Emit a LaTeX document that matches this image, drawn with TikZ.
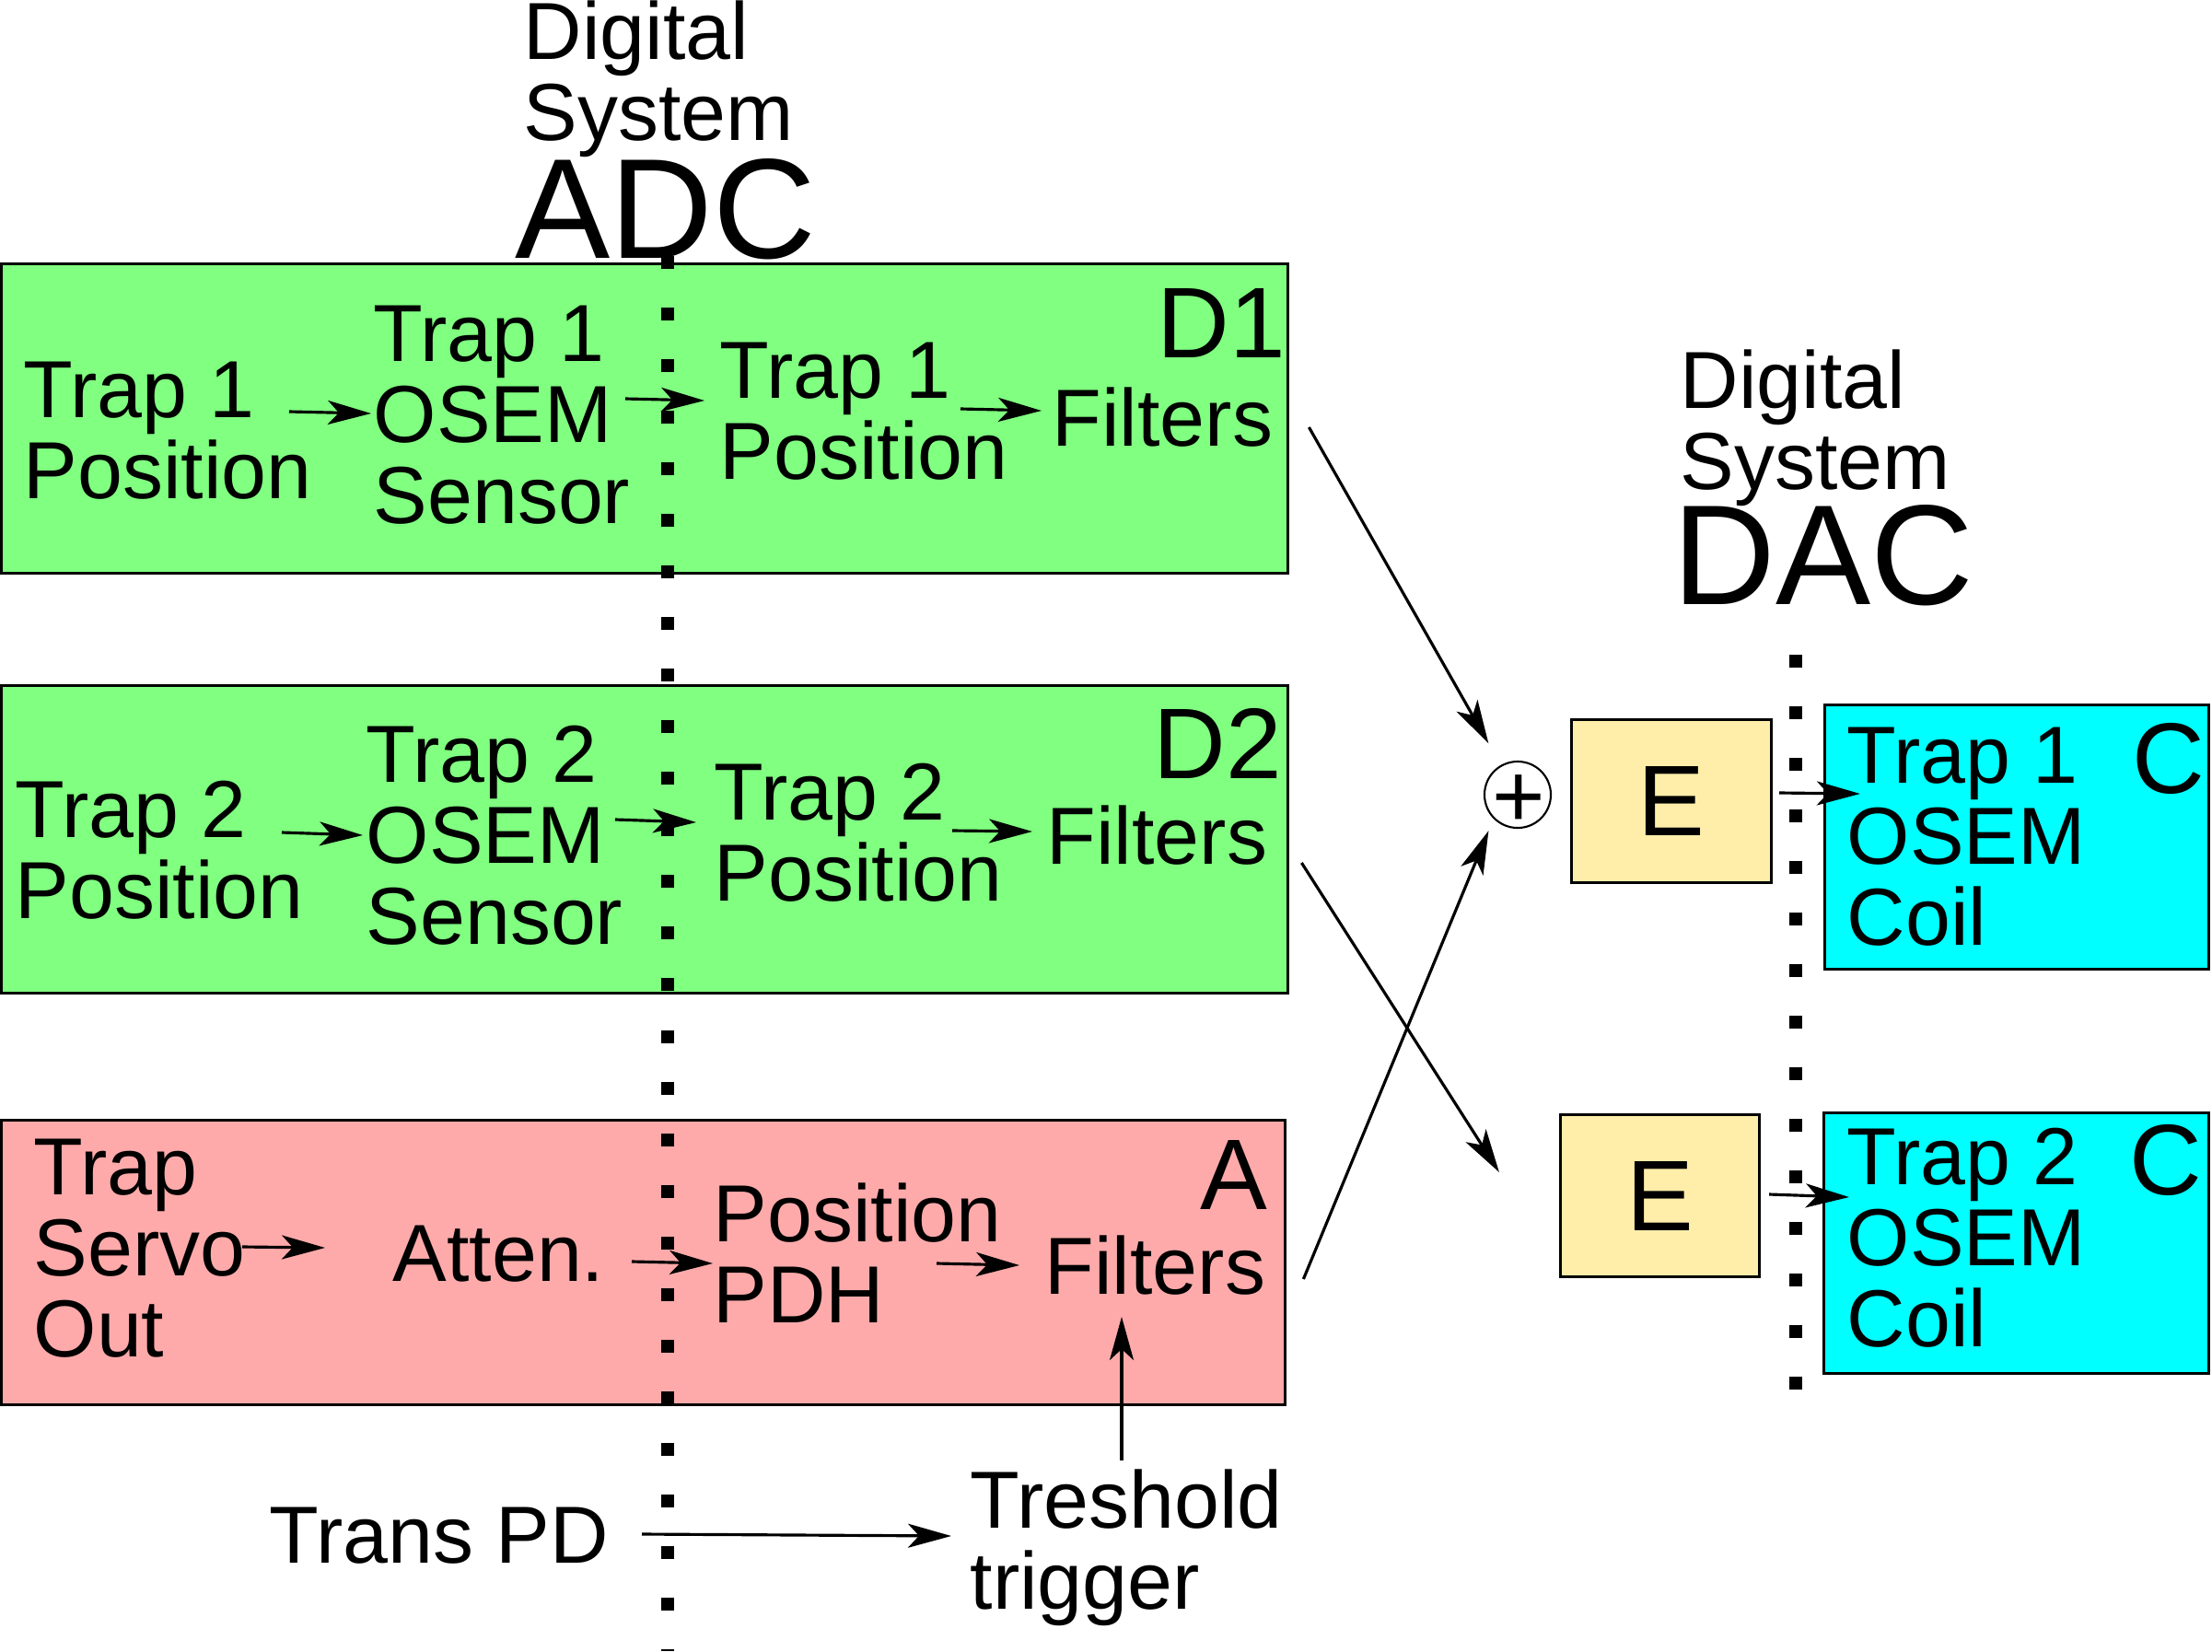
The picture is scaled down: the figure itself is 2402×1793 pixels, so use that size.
\documentclass[tikz,border=0pt]{standalone}
\usepackage{fontspec}
\setmainfont{Liberation Sans}
\usetikzlibrary{arrows.meta,calc}

\newcommand\txtfont{\fontsize{25}{25}\selectfont}
\newcommand\labfont{\fontsize{31}{31}\selectfont}
\newcommand\bigfont{\fontsize{44}{44}\selectfont}
\newcommand\plusfont{\fontsize{28}{28}\selectfont}

\definecolor{dgreen}{RGB}{128,255,128}
\definecolor{apink}{RGB}{255,170,170}
\definecolor{eyellow}{RGB}{255,238,170}
\definecolor{ccyan}{RGB}{0,255,255}

\begin{document}
\begin{tikzpicture}[x=0.01cm, y=-0.01cm,
  >={Stealth[length=0.47cm,width=0.26cm,inset=0.12cm]},
  box/.style={draw, line width=0.85pt, inner sep=0pt, outer sep=0pt},
  txt/.style={font=\txtfont, align=left, inner sep=0pt, anchor=base west},
  lab/.style={font=\labfont, inner sep=0pt},
  sig/.style={->, line width=0.9pt},
  adcline/.style={line width=0.14cm, dash pattern=on 0.14cm off 0.42cm}]

\useasboundingbox (0,0) rectangle (2402,1793);

% boxes
\node[box, fill=dgreen, minimum width=13.97cm, minimum height=3.36cm] (d1box) at (700,454.5) {};
\node[box, fill=dgreen, minimum width=13.97cm, minimum height=3.34cm] (d2box) at (700,911.5) {};
\node[box, fill=apink, minimum width=13.94cm, minimum height=3.09cm] (abox) at (698.5,1371) {};
\node[box, fill=eyellow, minimum width=2.17cm, minimum height=1.77cm, font=\labfont] (e1) at (1815,870) {E};
\node[box, fill=eyellow, minimum width=2.16cm, minimum height=1.76cm, font=\labfont] (e2) at (1802.5,1298.5) {E};
\node[box, fill=ccyan, minimum width=4.17cm, minimum height=2.87cm] (c1box) at (2190,909) {};
\node[box, fill=ccyan, minimum width=4.18cm, minimum height=2.83cm] (c2box) at (2189.5,1350) {};

% ADC and DAC borders
\draw[adcline] (725,278) -- (725,1793);
\draw[adcline] (1950,711) -- (1950,1509);

% multi-line nodes sit on the baseline of their last line
\node[txt] (dig1) at (568,152) {Digital\\System};
\node[font=\bigfont, inner sep=0pt, anchor=base west] (adc) at (559,280) {ADC};
\node[txt] (dig2) at (1824,531) {Digital\\System};
\node[font=\bigfont, inner sep=0pt, anchor=base west] (dac) at (1816,656) {DAC};

% D1
\node[txt] (t1pos) at (25,541) {Trap 1\\Position};
\node[txt] (t1osem) at (405,568) {Trap 1\\OSEM\\Sensor};
\node[txt] (t1posd) at (781,520) {Trap 1\\Position};
\node[txt] (t1filt) at (1142,484) {Filters};
\node[lab, anchor=base east] (d1lab) at (1397,388) {D1};

% D2
\node[txt] (t2pos) at (16,997) {Trap 2\\Position};
\node[txt] (t2osem) at (397,1025) {Trap 2\\OSEM\\Sensor};
\node[txt] (t2posd) at (775,978) {Trap 2\\Position};
\node[txt] (t2filt) at (1136,938) {Filters};
\node[lab, anchor=base east] (d2lab) at (1393,845) {D2};

% A
\node[txt] (tso) at (36,1473) {Trap\\Servo\\Out};
\node[txt] (att) at (426,1391) {Atten.};
\node[txt] (ppdh) at (774,1436) {Position\\PDH};
\node[txt] (afilt) at (1134,1405) {Filters};
\node[lab, anchor=base east] (alab) at (1377,1313) {A};

\node[txt] (tpd) at (292,1697) {Trans PD};
\node[txt] (thr) at (1053,1747) {Treshold\\trigger};

% coils
\node[txt] (c1txt) at (2005,1026) {Trap 1\\OSEM\\Coil};
\node[lab, anchor=base west] (c1lab) at (2315,861) {C};
\node[txt] (c2txt) at (2005,1462) {Trap 2\\OSEM\\Coil};
\node[lab, anchor=base west] (c2lab) at (2312,1297) {C};

% sum
\node[circle, draw, line width=0.6pt, minimum size=0.72cm, inner sep=0pt] (plus) at (1648,863) {};
\node[font=\plusfont, inner sep=0pt, anchor=base] (plussign) at (1649,898) {+};

\draw[sig] ($(t1pos.base west)+(289,-94)$) -- ($(t1osem.base west)+(-2,-119)$);
\draw[sig] ($(t1osem.base west)+(274,-135)$) -- ($(t1posd.base west)+(-16,-85)$);
\draw[sig] ($(t1posd.base west)+(262,-76)$) -- ($(t1filt.base west)+(-11,-38)$);

\draw[sig] ($(t2pos.base west)+(290,-93)$) -- ($(t2osem.base west)+(-3,-118)$);
\draw[sig] ($(t2osem.base west)+(271,-135)$) -- ($(t2posd.base west)+(-19,-85)$);
\draw[sig] ($(t2posd.base west)+(259,-76)$) -- ($(t2filt.base west)+(-15,-35)$);

\draw[sig] ($(tso.base west)+(227,-119)$) -- ($(att.base west)+(-73,-36)$);
\draw[sig] ($(att.base west)+(260,-21)$) -- ($(ppdh.base west)+(0,-64)$);
\draw[sig] ($(ppdh.base west)+(243,-64)$) -- ($(afilt.base west)+(-27,-31)$);

\draw[sig] ($(tpd.base west)+(405,-31)$) -- ($(thr.base west)+(-20,-79)$);
\draw[sig] ($(thr.base west)+(165,-161)$) -- ($(afilt.base west)+(84,25)$);

\draw[sig, shorten >=0.27cm] ($(d1box.east)+(22.5,9.5)$) -- (plus);
\draw[sig, shorten >=0.14cm] ($(abox.east)+(19.5,18)$) -- (plus.south west);
\draw[sig] ($(d2box.east)+(14.5,25.5)$) -- ($(e2.north west)+(-66.5,62.5)$);
\draw[sig] ($(e1.east)+(8.5,-9)$) -- ($(c1box.west)+(38.5,-47)$);
\draw[sig] ($(e2.east)+(10.5,-1.5)$) -- ($(c2box.west)+(27.5,-50)$);

\end{tikzpicture}
\end{document}
